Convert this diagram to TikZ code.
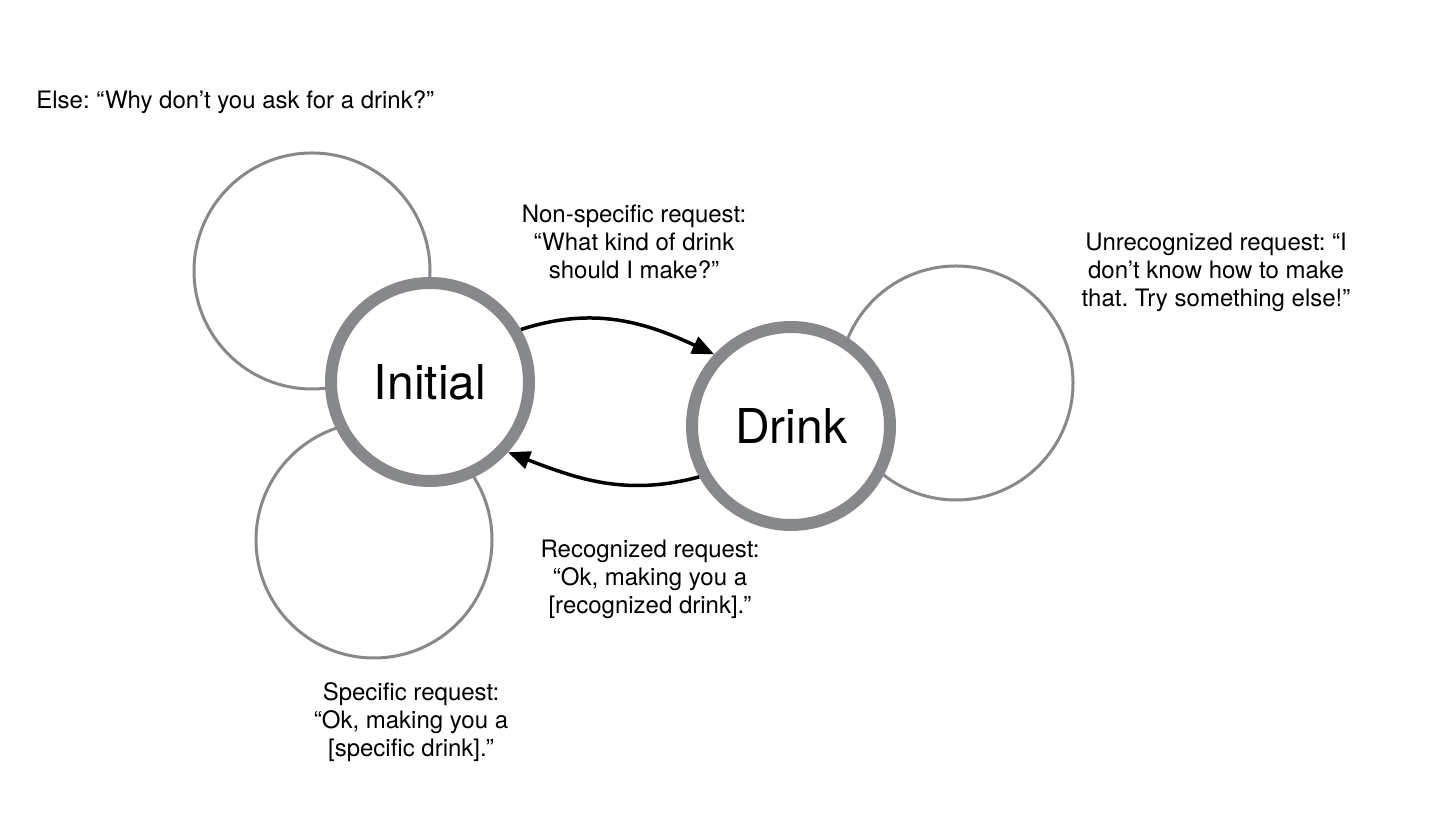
\documentclass[tikz,border=0pt]{standalone}
\usepackage{fontspec}
\setmainfont{TeX Gyre Heros}
\usetikzlibrary{arrows.meta,backgrounds}
\definecolor{stategray}{RGB}{135,136,140}
\frenchspacing

\begin{document}
\begin{tikzpicture}[x=0.5pt,y=0.5pt]
        \useasboundingbox (0,0) rectangle (1430,834);

        \begin{scope}[every node/.style={circle,draw=stategray,fill=white,line width=6pt,inner sep=0pt,minimum size=99pt}]
          \node[font=\fontsize{24}{30}\selectfont] (init)  at (430,452) {Initial};
          \node[font=\fontsize{24}{30}\selectfont] (drink) at (791,408) {Drink};
        \end{scope}

        % self loops, behind the states
        \begin{scope}[on background layer,every path/.style={draw=stategray,line width=1.5pt}]
          \path (init.center)  ++(-118,111) circle[radius=118];
          \path (init.center)  ++(-56,-158) circle[radius=118];
          \path (drink.center) ++(165,43)   circle[radius=117];
        \end{scope}

        \begin{scope}[every edge/.style={draw,line width=1.75pt,-{Triangle[length=11pt,width=9pt]}}]
          \path (init.30)   edge[out=18,in=155]  (drink.137);
          \path (drink.209) edge[out=195,in=-21] (init.318);
        \end{scope}

        \begin{scope}[every node/.style={align=center,inner sep=0pt,font=\fontsize{12}{14}\selectfont}]
          \node[anchor=west] (else) at (36,732) {Else: “Why don’t you ask for a drink?”};
          \node (nonspec) at (634,592)  {Non-specific request:\\“What kind of drink\\should I make?”};
          \node (unrec)   at (1216,562) {Unrecognized request: “I\\don’t know how to make\\that. Try something else!”};
          \node (rec)     at (650,255)  {Recognized request:\\“Ok, making you a\\{[recognized drink].”}};
          \node (spec)    at (411,112)  {Specific request:\\“Ok, making you a\\{[specific drink].”}};
        \end{scope}

      \end{tikzpicture}
\end{document}
